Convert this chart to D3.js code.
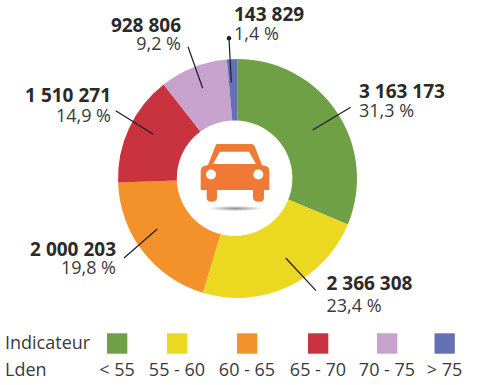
<!DOCTYPE html>
<html>
<head>
<meta charset="utf-8">
<style>
  html, body { margin: 0; padding: 0; background: #fff; }
  text { font-family: "Open Sans", "Noto Sans", sans-serif; fill: #2b2a29; }
  .pct, .tick, .rowname { fill: #3a3a3a; }
</style>
<script src="https://cdn.jsdelivr.net/npm/d3@7"></script>
</head>
<body>
<svg id="chart" width="480" height="385"></svg>
<script>
// values
const categories = ['< 55', '55 - 60', '60 - 65', '65 - 70', '70 - 75', '> 75'];
const values = [3163173, 2366308, 2000203, 1510271, 928806, 143829];
const countLabels = ['3 163 173', '2 366 308', '2 000 203', '1 510 271', '928 806', '143 829'];
const pctLabels = ['31,3 %', '23,4 %', '19,8 %', '14,9 %', '9,2 %', '1,4 %'];
const colors = ['#6fa045', '#ecd820', '#f3922b', '#c9333f', '#c7a2cc', '#6370b3'];

// label placement, same order as the values
const labelX = [359, 326.5, 116, 111, 181, 234];
const countY = [97.5, 290, 255.5, 102, 32, 21];
const pctY = [116.5, 311.5, 274, 121.5, 50, 40];
const labelAnchor = ['start', 'start', 'end', 'end', 'end', 'start'];
const lineStart = [[312.7, 130], [285.7, 258], [157.3, 229], [153.3, 134.3], [202.7, 88.3], [231.3, 82.3]];
const lineEnd = [[350.7, 107.3], [316, 290.7], [124, 258], [115.7, 110.7], [188, 46.7], [229, 38.3]];
const legendXs = [117, 177, 247, 318, 387, 444.5];

const cx = 237.5, cy = 178.5, outer = 119.5;

const svg = d3.select('#chart');
const chart = svg.append('g').attr('transform', `translate(${cx},${cy})`);

const pie = d3.pie().sort(null);
const arc = d3.arc().innerRadius(45).outerRadius(outer);
const slices = pie(values);

chart.selectAll('path.slice')
  .data(slices)
  .enter().append('path')
    .attr('class', 'slice')
    .attr('d', arc)
    .attr('fill', (d, i) => colors[i]);

// the hole sits a little left of the pie centre
svg.append('circle')
  .attr('cx', 234.6)
  .attr('cy', 178.2)
  .attr('r', 57.8)
  .attr('fill', '#fff');

// leader lines
svg.selectAll('line.leader')
  .data(slices)
  .enter().append('line')
    .attr('class', 'leader')
    .attr('x1', (d, i) => lineStart[i][0])
    .attr('y1', (d, i) => lineStart[i][1])
    .attr('x2', (d, i) => lineEnd[i][0])
    .attr('y2', (d, i) => lineEnd[i][1])
    .attr('stroke', '#1a1a2a')
    .attr('stroke-width', 1.2);

svg.append('circle')
  .attr('cx', lineEnd[5][0])
  .attr('cy', lineEnd[5][1])
  .attr('r', 2.2)
  .attr('fill', '#1a1a2a');

// labels
svg.selectAll('text.count')
  .data(countLabels)
  .enter().append('text')
    .attr('class', 'count')
    .attr('x', (d, i) => labelX[i])
    .attr('y', (d, i) => countY[i])
    .attr('text-anchor', (d, i) => labelAnchor[i])
    .attr('font-size', 19)
    .attr('font-weight', 700)
    .text(d => d);

svg.selectAll('text.pct')
  .data(pctLabels)
  .enter().append('text')
    .attr('class', 'pct')
    .attr('x', (d, i) => labelX[i])
    .attr('y', (d, i) => pctY[i])
    .attr('text-anchor', (d, i) => labelAnchor[i])
    .attr('font-size', 18)
    .text(d => d);

// car icon in the hole
const defs = svg.append('defs');
const shadow = defs.append('radialGradient').attr('id', 'shadow');
shadow.append('stop').attr('offset', '0%').attr('stop-color', '#8f8f8f');
shadow.append('stop').attr('offset', '100%').attr('stop-color', '#fff');

const car = svg.append('g').attr('transform', 'translate(170,120)');
car.append('ellipse')
  .attr('cx', 65.5).attr('cy', 88.5).attr('rx', 28).attr('ry', 2.6)
  .attr('fill', 'url(#shadow)');
car.append('path')
  .attr('fill', '#f07a35')
  .attr('fill-rule', 'evenodd')
  .attr('d', 'M47 24 L81 24 Q84 24 85 27 L92 45 L96 46 Q99.3 47 99.3 51 L99.3 70 L94 70 L94 78 Q94 81.7 89 81.7 Q83 81.7 83 78 L83 70 L47 70 L47 78 Q47 81.7 41.5 81.7 Q36.7 81.7 36.7 78 L36.7 70 L30.7 70 L30.7 51 Q30.7 47 34 46 L38 45 L45 27 Q46 24 47 24 Z M50 31.7 L43 44 L86 44 L79 31.7 Z');
car.selectAll('circle.lamp')
  .data([41, 88.3])
  .enter().append('circle')
    .attr('class', 'lamp')
    .attr('cx', d => d).attr('cy', 54.5).attr('r', 5)
    .attr('fill', '#fff');

// legend
svg.selectAll('rect.key')
  .data(categories)
  .enter().append('rect')
    .attr('class', 'key')
    .attr('x', (d, i) => legendXs[i] - 10)
    .attr('y', 333.3)
    .attr('width', 20.3)
    .attr('height', 20.4)
    .attr('fill', (d, i) => colors[i]);

svg.selectAll('text.tick')
  .data(categories)
  .enter().append('text')
    .attr('class', 'tick')
    .attr('x', (d, i) => legendXs[i])
    .attr('y', 376)
    .attr('text-anchor', 'middle')
    .attr('font-size', 18)
    .text(d => d);

svg.append('text').attr('class', 'rowname').attr('x', 5).attr('y', 349.3).attr('font-size', 18).text('Indicateur');
svg.append('text').attr('class', 'rowname').attr('x', 5).attr('y', 376).attr('font-size', 18).text('Lden');
</script>
</body>
</html>
